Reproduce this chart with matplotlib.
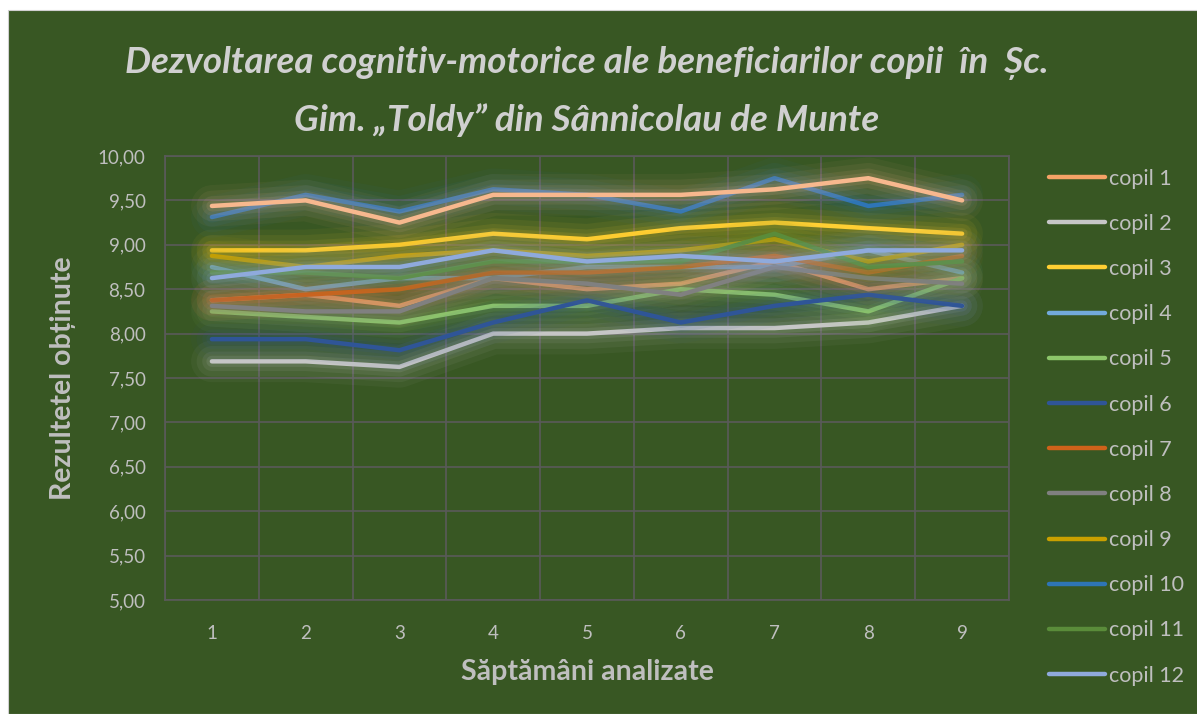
import matplotlib
matplotlib.use("Agg")
from matplotlib import pyplot as plt
from matplotlib.patches import Rectangle
from matplotlib.ticker import FuncFormatter, MultipleLocator

# values are averages (steps of 1/16)
WEEKS = [1, 2, 3, 4, 5, 6, 7, 8, 9]

COPIL_1 = [8.375, 8.4375, 8.3125, 8.625, 8.5, 8.5625, 8.8125, 8.5, 8.625]
COPIL_2 = [7.6875, 7.6875, 7.625, 8.0, 8.0, 8.0625, 8.0625, 8.125, 8.3125]
COPIL_3 = [8.9375, 8.9375, 9.0, 9.125, 9.0625, 9.1875, 9.25, 9.1875, 9.125]
COPIL_4 = [8.75, 8.5, 8.625, 8.625, 8.75, 8.75, 8.75, 8.9375, 8.6875]
COPIL_5 = [8.25, 8.1875, 8.125, 8.3125, 8.3125, 8.5, 8.4375, 8.25, 8.625]
COPIL_6 = [7.9375, 7.9375, 7.8125, 8.125, 8.375, 8.125, 8.3125, 8.4375, 8.3125]
COPIL_7 = [8.375, 8.4375, 8.5, 8.6875, 8.6875, 8.75, 8.875, 8.6875, 8.875]
COPIL_8 = [8.3125, 8.25, 8.25, 8.625, 8.5625, 8.4375, 8.75, 8.625, 8.5625]
COPIL_9 = [8.875, 8.75, 8.875, 8.9375, 8.875, 8.9375, 9.0625, 8.8125, 9.0]
COPIL_10 = [9.3125, 9.5625, 9.375, 9.625, 9.5625, 9.375, 9.75, 9.4375, 9.5625]
COPIL_11 = [8.6875, 8.6875, 8.625, 8.8125, 8.8125, 8.8125, 9.125, 8.75, 8.8125]
COPIL_12 = [8.625, 8.75, 8.75, 8.9375, 8.8125, 8.875, 8.8125, 8.9375, 8.9375]
# 13th series: its legend entry is cut off at the bottom of the original
COPIL_13 = [9.4375, 9.5, 9.25, 9.5625, 9.5625, 9.5625, 9.625, 9.75, 9.5]

SERIES = [
    ("copil 1", COPIL_1, "#F4A266"),
    ("copil 2", COPIL_2, "#C6C6C6"),
    ("copil 3", COPIL_3, "#FFCF33"),
    ("copil 4", COPIL_4, "#72AADB"),
    ("copil 5", COPIL_5, "#8DC66A"),
    ("copil 6", COPIL_6, "#2F5597"),
    ("copil 7", COPIL_7, "#CF621A"),
    ("copil 8", COPIL_8, "#808080"),
    ("copil 9", COPIL_9, "#C9A000"),
    ("copil 10", COPIL_10, "#2E75B6"),
    ("copil 11", COPIL_11, "#5A8C3A"),
    ("copil 12", COPIL_12, "#8FAADC"),
    ("copil 13", COPIL_13, "#F7B88E"),
]

BG = "#385723"
GRID = "#5A5A5A"
TEXT = "#BFBFBF"
W, H = 1197, 714

plt.rcParams["font.family"] = ["Lato", "DejaVu Sans"]

fig = plt.figure(figsize=(W / 100, H / 100), dpi=100)
fig.patch.set_facecolor("white")
fig.patches.append(Rectangle((8 / W, 0), 1, 1 - 10 / H, transform=fig.transFigure,
                             facecolor=BG, edgecolor="#D0D0D0", linewidth=0.8, zorder=-10))

left, right, top, bottom = 165, 1009, 156, 600
ax = fig.add_axes([left / W, 1 - bottom / H, (right - left) / W, (bottom - top) / H])
ax.set_facecolor(BG)

handles = []
for i, (name, values, color) in enumerate(SERIES):
    z = 3 + i * 0.1
    # soft glow behind each line, like the Excel glow effect
    for lw, a in [(30, 0.05), (22, 0.07), (14, 0.09), (8, 0.12)]:
        ax.plot(WEEKS, values, color=color, linewidth=lw, alpha=a,
                solid_capstyle="round", solid_joinstyle="round", zorder=z)
    line, = ax.plot(WEEKS, values, color=color, linewidth=3.2, label=name,
                    solid_capstyle="round", solid_joinstyle="round", zorder=z + 0.05)
    if i < 12:
        handles.append(line)

ax.set_xlim(0.5, 9.5)
ax.set_ylim(5, 10)
ax.set_xticks(WEEKS)
ax.xaxis.set_minor_locator(MultipleLocator(1, offset=0.5))
ax.yaxis.set_major_locator(MultipleLocator(0.5))
ax.yaxis.set_major_formatter(FuncFormatter(lambda v, _: f"{v:.2f}".replace(".", ",")))
ax.grid(True, axis="y", which="major", color=GRID, linewidth=1.2, zorder=1)
ax.grid(True, axis="x", which="minor", color=GRID, linewidth=1.2, zorder=1)
ax.tick_params(axis="both", which="both", length=0, colors=TEXT, labelsize=13.5)
ax.tick_params(axis="y", pad=14)
ax.tick_params(axis="x", pad=18)
for spine in ax.spines.values():
    spine.set_color(GRID)
    spine.set_linewidth(1.2)

fig.text(587 / W, 1 - 63 / H, "Dezvoltarea cognitiv-motorice ale beneficiarilor copii  în  Șc.",
         ha="center", va="center", fontsize=26.5, fontweight="bold", fontstyle="italic", color="#D0D0D0")
fig.text(587 / W, 1 - 120 / H, "Gim. „Toldy” din Sânnicolau de Munte",
         ha="center", va="center", fontsize=26.5, fontweight="bold", fontstyle="italic", color="#D0D0D0")
fig.text(587 / W, 1 - 672 / H, "Săptămâni analizate", ha="center", va="center",
         fontsize=20.5, fontweight="bold", color=TEXT)
fig.text(63 / W, 1 - 378 / H, "Rezultetel obținute", ha="center", va="center", rotation=90,
         fontsize=20.5, fontweight="bold", color=TEXT)

leg = fig.legend(handles=handles, loc="upper left", bbox_to_anchor=(1040 / W, 1 - 160 / H),
                 frameon=False, fontsize=15.5, labelcolor=TEXT, handlelength=2.6,
                 handletextpad=0.2, labelspacing=1.17, borderaxespad=0)
for h in leg.legend_handles:
    h.set_linewidth(3.2)

fig.savefig("out.png", dpi=100, facecolor=fig.get_facecolor())
